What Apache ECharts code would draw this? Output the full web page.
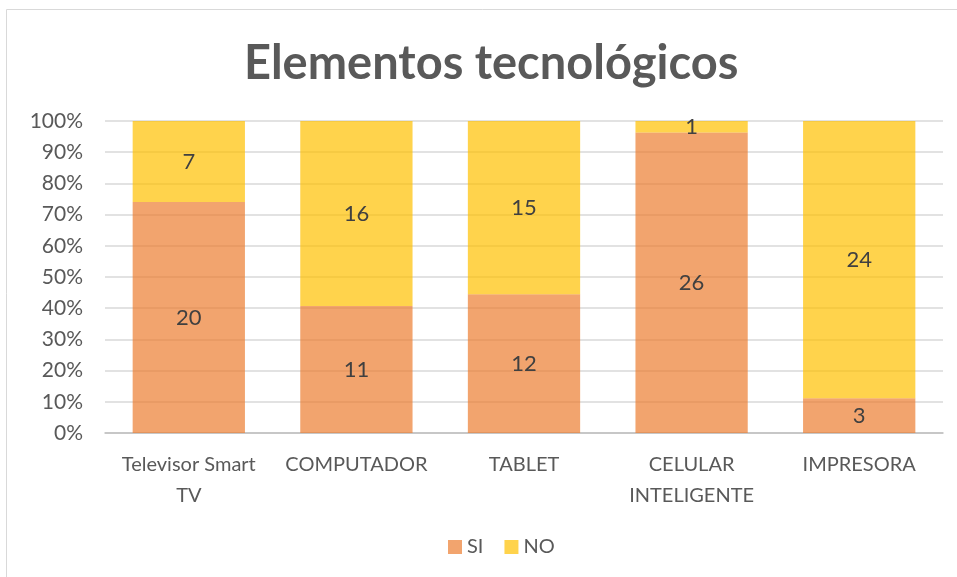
<!DOCTYPE html>
<html>
<head>
<meta charset="utf-8">
<script src="https://cdn.jsdelivr.net/npm/echarts@6/dist/echarts.min.js"></script>
<style>
html,body{margin:0;padding:0;background:#fff;}
#chartmain{width:957px;height:577px;}
</style>
</head>
<body>
<div id="chartmain"></div>
<script>
var categories = ['Televisor Smart\nTV', 'COMPUTADOR', 'TABLET', 'CELULAR\nINTELIGENTE', 'IMPRESORA'];
var siCount = [20, 11, 12, 26, 3];
var noCount = [7, 16, 15, 1, 24];
var yTicks = [0, 10, 20, 30, 40, 50, 60, 70, 80, 90, 100];

// convertir conteos a porcentaje de cada categoria
function toPct(arr){
	return arr.map(function(v, i){
		var total = siCount[i] + noCount[i];
		return {value: v / total * 100, count: v};
	});
}
var siData = toPct(siCount);
var noData = toPct(noCount);

var font = 'Lato, "Open Sans", sans-serif';
var myChart = echarts.init(document.getElementById('chartmain'));
var option = {
	animation: false,
	title: {
		text: 'Elementos tecnológicos',
		left: 239,
		top: 35,
		textStyle: {fontFamily: font, fontSize: 47, fontWeight: 'bold', color: '#595959'}
	},
	graphic: [{
		type: 'rect',
		shape: {x: 6.5, y: 9.5, width: 960, height: 580},
		style: {fill: 'none', stroke: '#d9d9d9', lineWidth: 1}
	}],
	legend: {
		data: ['SI', 'NO'],
		bottom: 15,
		left: 443,
		itemWidth: 14,
		itemHeight: 14,
		itemGap: 21,
		icon: 'rect',
		textStyle: {fontFamily: font, fontSize: 20, color: '#595959'}
	},
	grid: {left: 105, right: 14, top: 121, bottom: 144},
	xAxis: {
		type: 'category',
		data: categories,
		axisTick: {show: false},
		axisLine: {lineStyle: {color: '#bfbfbf', width: 1.5}},
		axisLabel: {fontFamily: font, fontSize: 20, color: '#595959', lineHeight: 31, margin: 16, interval: 0}
	},
	yAxis: {
		type: 'value',
		min: yTicks[0],
		max: yTicks[yTicks.length - 1],
		interval: 10,
		axisLabel: {formatter: '{value}%', fontFamily: font, fontSize: 21, color: '#595959', margin: 22},
		axisLine: {show: false},
		axisTick: {show: false},
		splitLine: {lineStyle: {color: '#d9d9d9', width: 1.5}}
	},
	series: [
		{
			name: 'SI',
			type: 'bar',
			stack: 'total',
			barWidth: '67%',
			data: siData,
			itemStyle: {color: 'rgba(237,125,49,0.7)'},
			label: {
				show: true,
				position: 'inside',
				formatter: function(p){ return p.data.count; },
				fontFamily: font, fontSize: 22, color: '#404040'
			}
		},
		{
			name: 'NO',
			type: 'bar',
			stack: 'total',
			barWidth: '67%',
			data: noData,
			itemStyle: {color: 'rgba(255,192,0,0.7)'},
			label: {
				show: true,
				position: 'inside',
				formatter: function(p){ return p.data.count; },
				fontFamily: font, fontSize: 22, color: '#404040'
			}
		}
	]
};
myChart.setOption(option);
</script>
</body>
</html>
